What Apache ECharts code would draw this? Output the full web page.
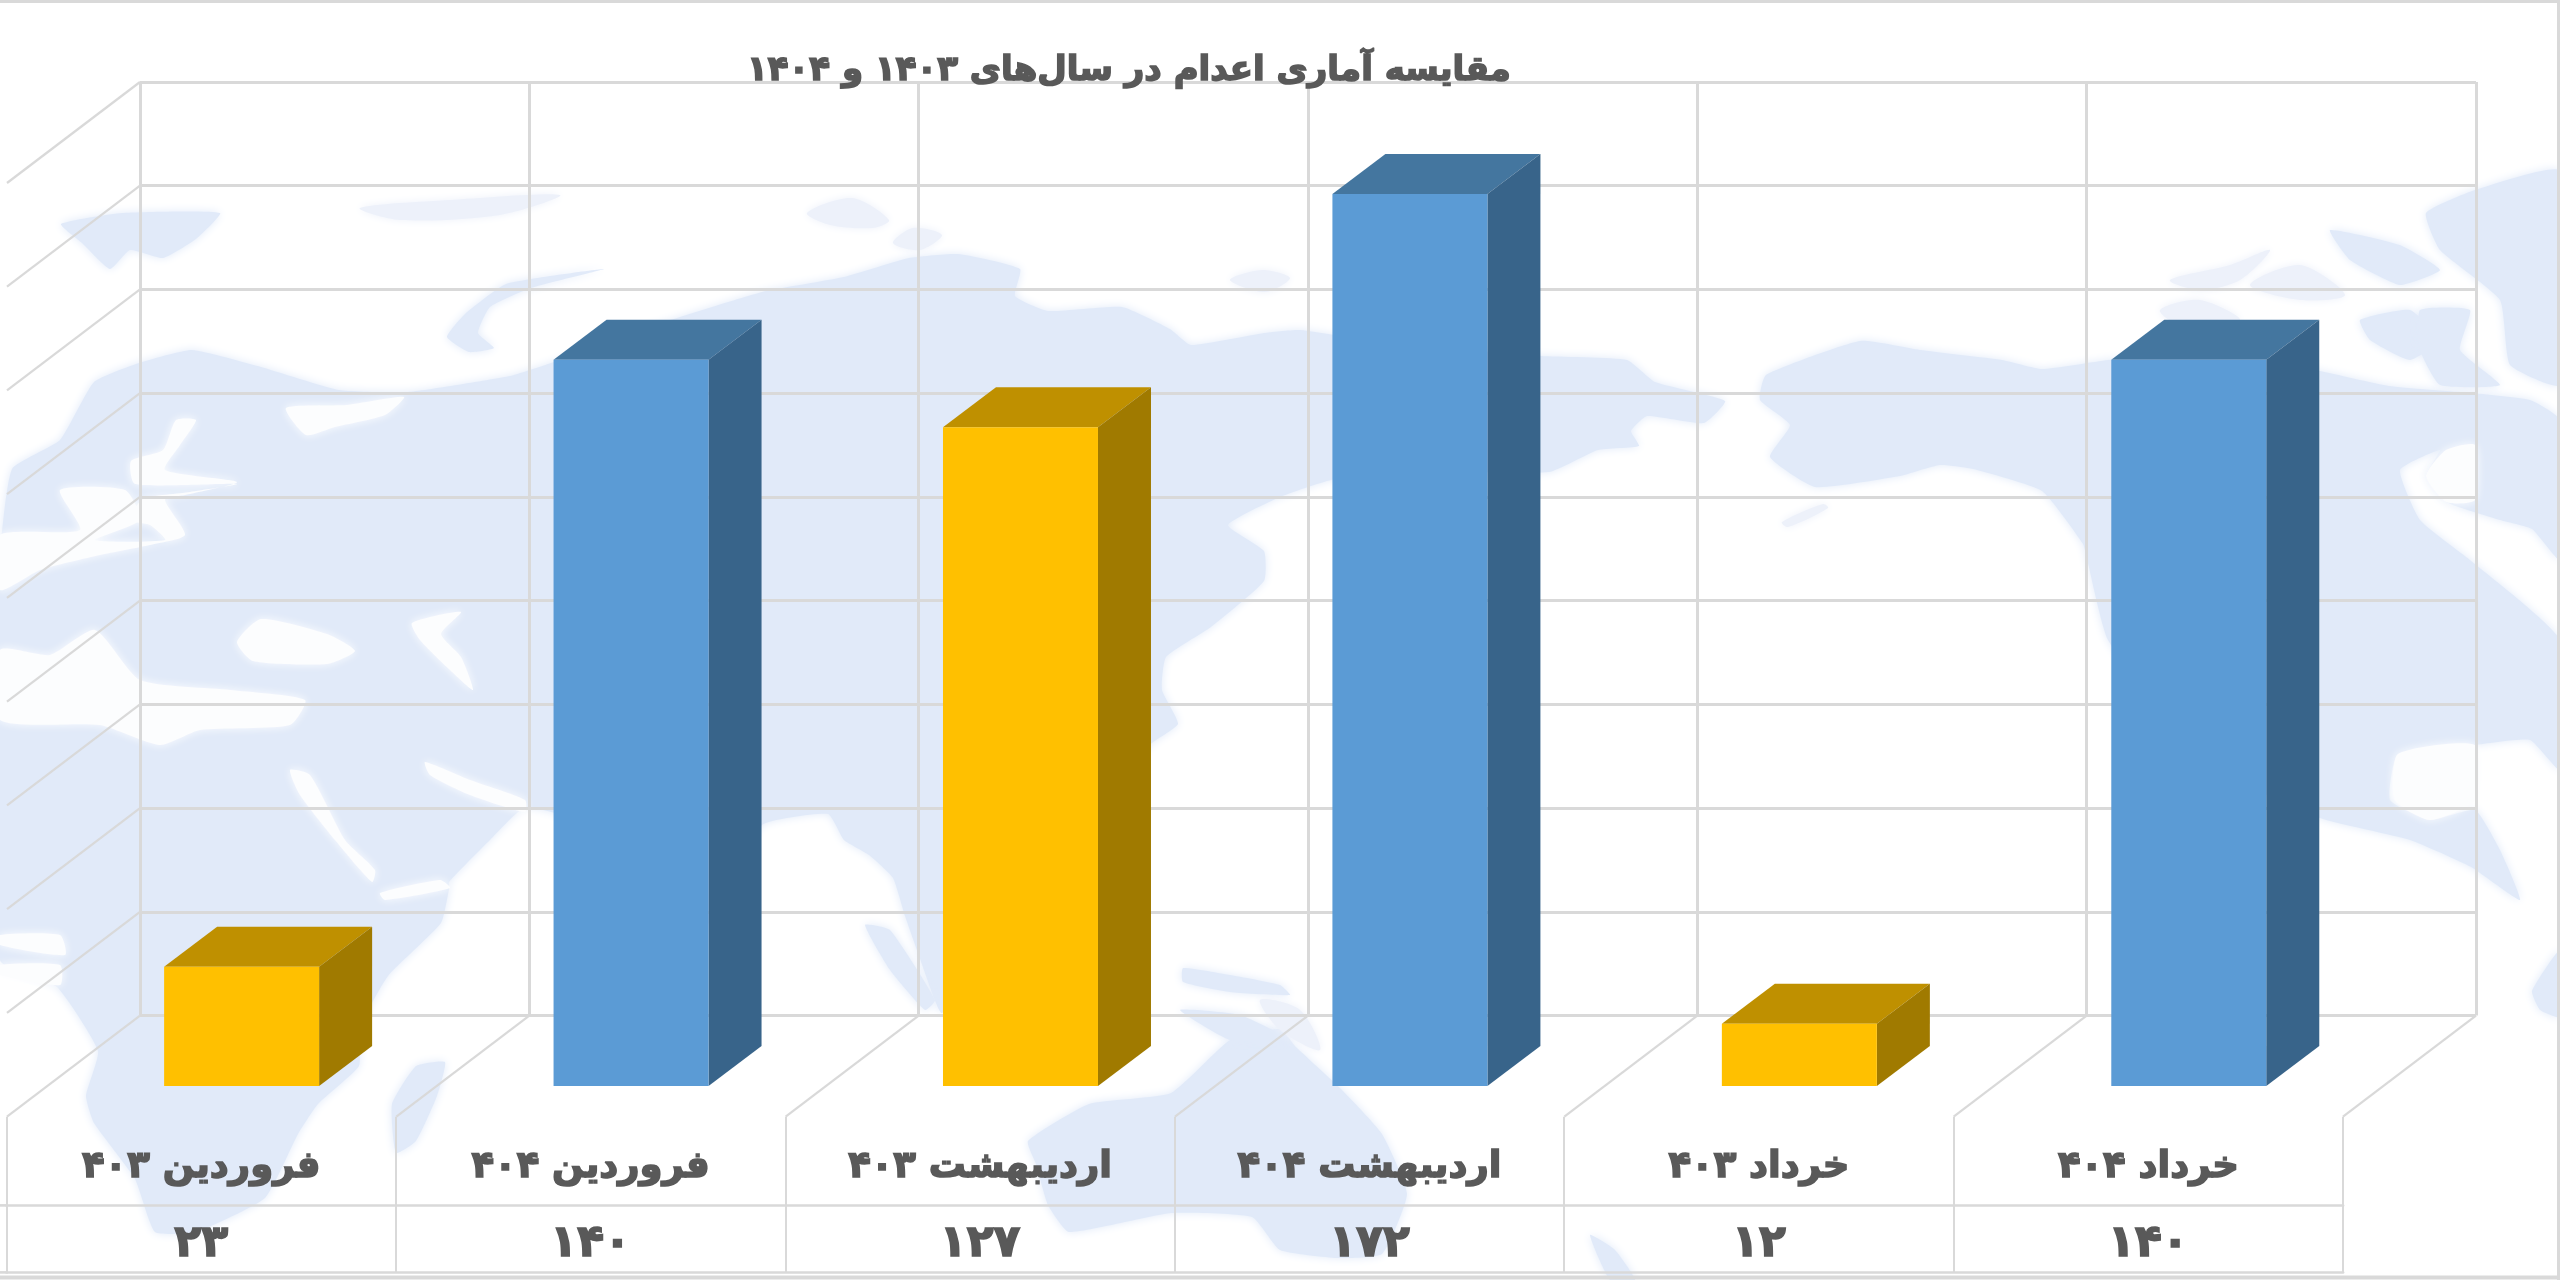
<!DOCTYPE html>
<html><head><meta charset="utf-8">
<style>html,body{margin:0;padding:0;background:#fff}#c{width:2560px;height:1280px}</style>
<script src="https://cdn.jsdelivr.net/npm/echarts@6/dist/echarts.min.js"></script>
</head><body><div id="c"></div>
<script>
const titleText = 'مقایسه آماری اعدام در سال‌های ۱۴۰۳ و ۱۴۰۴';
const categories = ['فروردین ۴۰۳','فروردین ۴۰۴','اردیبهشت ۴۰۳','اردیبهشت ۴۰۴','خرداد ۴۰۳','خرداد ۴۰۴'];
const values = [23,140,127,172,12,140];
const years = ['403','404','403','404','403','404'];
const valueTicks = [20,40,60,80,100,120,140,160,180];
const toFa = v => String(v).replace(/\d/g, d => '۰۱۲۳۴۵۶۷۸۹'[d]);

const palette = {
  '403': {front:'#FFC000', top:'#BF9000', side:'#A07A00'},
  '404': {front:'#5B9BD5', top:'#44769F', side:'#38648A'}
};
const GRID='#D9D9D9', TXT='#595959', LAND='#E1EAF9', FAINT='#EDF1FA';
const FONT='"DejaVu Sans"';
const WALL_DX=133, WALL_DY=101, BAR_DX=53, BAR_DY=40, BAR_W=0.398;

// decorative pale world map behind the chart
const landShapes = [
 // Eurasia + Africa mass
 [[0,560],[12,469],[60,440],[94,382],[139,363],[192,350],[261,367],[339,390],[408,392],[510,376],[551,363],[640,330],[762,292],[844,277],[909,258],[958,254],[1020,269],[1015,296],[1048,311],[1122,307],[1170,329],[1191,345],[1264,333],[1300,330],[1400,345],[1541,356],[1627,360],[1655,382],[1725,401],[1704,423],[1647,416],[1631,431],[1639,446],[1598,450],[1549,472],[1400,470],[1331,480],[1280,497],[1228,525],[1264,551],[1264,581],[1211,627],[1166,657],[1162,690],[1178,724],[1150,745],[1060,880],[1000,960],[942,1013],[934,998],[918,953],[905,916],[893,878],[869,855],[844,840],[828,814],[762,825],[720,900],[680,975],[640,900],[600,830],[526,807],[490,840],[449,882],[449,889],[441,923],[388,976],[359,1029],[359,1066],[318,1104],[298,1134],[265,1198],[196,1232],[155,1232],[135,1179],[94,1123],[86,1096],[98,1051],[57,987],[0,960]],
 // Australia
 [[1028,1141],[1089,1104],[1171,1093],[1230,1040],[1280,1029],[1296,1047],[1341,1089],[1382,1134],[1407,1194],[1382,1254],[1337,1258],[1280,1250],[1252,1217],[1171,1213],[1069,1232],[1048,1205],[1036,1164]],
 // Madagascar
 [[445,1062],[416,1066],[392,1104],[396,1153],[416,1141],[437,1096]],
 // Greenland-like island upper left
 [[61,224],[122,213],[220,213],[196,239],[163,258],[130,250],[110,269],[82,243]],
 // Novaya Zemlya
 [[604,269],[506,284],[465,314],[447,337],[469,352],[494,348],[478,333],[490,307],[531,288]],
 // Indonesia
 [[1183,968],[1230,975],[1280,985],[1290,995],[1230,992],[1183,982]],
 [[865,925],[890,930],[935,1000],[925,1010],[890,970]],
 [[1000,1000],[1040,995],[1080,1015],[1040,1020]],
 [[1180,1010],[1240,1015],[1290,1040],[1230,1040]],
 // Pacific-side islands
 [[1590,1235],[1615,1250],[1635,1280],[1610,1280]],
 // North America
 [[1766,375],[1860,341],[1920,350],[2002,360],[2042,369],[2108,360],[2200,350],[2320,371],[2389,386],[2471,393],[2530,400],[2560,420],[2560,560],[2532,529],[2500,520],[2446,502],[2426,476],[2440,450],[2400,470],[2420,520],[2470,560],[2560,640],[2560,770],[2530,740],[2475,745],[2398,754],[2390,800],[2430,820],[2475,810],[2500,850],[2520,900],[2471,867],[2410,840],[2320,818],[2200,760],[2108,640],[2087,559],[2083,544],[2042,491],[1973,469],[1940,465],[1900,476],[1815,487],[1770,457],[1790,425],[1760,400]],
 // South America
 [[2532,991],[2560,950],[2560,1017],[2540,1010]],
 // Greenland and arctic Canada
 [[2426,213],[2475,190],[2560,171],[2560,385],[2510,365],[2500,300],[2440,250]],
 [[2330,230],[2400,245],[2440,270],[2400,285],[2350,260]],
 [[2360,320],[2410,310],[2440,340],[2410,360],[2370,340]],
 [[2420,310],[2470,310],[2460,350],[2500,385],[2440,385],[2420,350]]
];
const faintShapes = [
 [[360,208],[450,200],[560,195],[500,215],[400,220]],
 [[807,213],[852,198],[889,220],[873,228],[830,225]],
 [[893,243],[913,228],[942,235],[920,250]],
 [[1230,280],[1262,270],[1290,278],[1265,292]],
 [[2170,280],[2230,265],[2270,250],[2240,280],[2200,290]],
 [[2250,285],[2300,265],[2345,295],[2300,300]],
 [[2160,310],[2200,300],[2240,320],[2180,325]],
 [[1782,522],[1823,504],[1828,508],[1788,527]],
 [[1260,1000],[1300,1010],[1320,1050],[1280,1030]]
];
const seaShapes = [
 [[286,408],[347,405],[404,397],[385,415],[335,427],[306,435]],
 [[196,420],[176,420],[163,450],[131,461],[135,484],[237,484],[190,492],[143,499],[130,520],[150,525],[165,540],[95,540],[140,520],[125,490],[60,490],[80,530],[0,535],[0,590],[40,570],[100,555],[150,545],[185,535],[165,500],[185,495],[237,482],[165,470],[180,445]],
 [[237,642],[261,619],[327,634],[355,651],[327,664],[253,661]],
 [[412,623],[461,612],[441,634],[461,657],[473,690],[450,670],[420,640]],
 [[0,650],[50,655],[95,630],[140,680],[230,690],[305,700],[290,725],[200,730],[160,745],[100,725],[0,720]],
 [[290,770],[310,775],[345,840],[375,870],[372,882],[335,840],[300,795]],
 [[425,762],[470,780],[525,800],[525,812],[470,795],[430,775]],
 [[380,893],[440,880],[450,888],[385,900]],
 [[0,935],[60,935],[65,955],[0,945]],
 [[0,965],[60,965],[60,985],[0,975]],
 [[2398,754],[2475,745],[2475,800],[2430,820],[2395,800]],
 [[2426,476],[2446,450],[2475,445],[2475,500],[2446,502]]
];
const mapGraphic = [];
landShapes.forEach(p => mapGraphic.push({type:'polygon', z:-20, silent:true,
  shape:{points:p, smooth:0.15}, style:{fill:LAND, shadowBlur:10, shadowColor:LAND}}));
faintShapes.forEach(p => mapGraphic.push({type:'polygon', z:-20, silent:true,
  shape:{points:p, smooth:0.3}, style:{fill:FAINT, shadowBlur:8, shadowColor:FAINT}}));
seaShapes.forEach(p => mapGraphic.push({type:'polygon', z:-19, silent:true,
  shape:{points:p, smooth:0.2}, style:{fill:'#FCFDFE', shadowBlur:8, shadowColor:'#FCFDFE'}}));
// frame + stubs of the table rules that run to the page edge
const rule = (x1,y1,x2,y2,w) => ({type:'line', z:-5, silent:true, shape:{x1,y1,x2,y2}, style:{stroke:GRID, lineWidth:w}});
mapGraphic.push(rule(0,1.5,2560,1.5,3), rule(0,1277.5,2560,1277.5,4), rule(2558.5,0,2558.5,1280,3),
  rule(0,1205.4,8,1205.4,2.6), rule(0,1272.4,8,1272.4,2.6));

function hiddenY(grid, min, max){ return {type:'value', gridIndex:grid, min, max, axisLine:{show:false}, axisTick:{show:false}, axisLabel:{show:false}, splitLine:{show:false}}; }

const option = {
  backgroundColor:'#fff', animation:false,
  title:{text:titleText, left:1124, top:49, textAlign:'center',
    textStyle:{fontFamily:FONT, fontWeight:'bold', fontSize:34, color:TXT, textBorderColor:TXT, textBorderWidth:1.6}},
  graphic:{elements:mapGraphic},
  grid:[
    {left:140, width:2336, top:82, height:933.6},     // back wall
    {left:46.9, width:2336.6, top:152.4, height:933.6}, // plane of the bar fronts
    {left:6.5, width:2336.6, top:1116.7, height:88.7},  // table: names
    {left:6.5, width:2336.6, top:1205.4, height:67}     // table: values
  ],
  xAxis:[
    {type:'category', gridIndex:0, data:categories, axisLine:{show:false}, axisTick:{show:false}, axisLabel:{show:false},
      splitLine:{show:true, interval:0, lineStyle:{color:GRID, width:3}}},
    {type:'category', gridIndex:1, data:categories, axisLine:{show:false}, axisTick:{show:false}, axisLabel:{show:false}, splitLine:{show:false}},
    {type:'category', gridIndex:2, data:categories, position:'bottom', axisTick:{show:false},
      axisLine:{show:true, lineStyle:{color:GRID, width:2.6}},
      splitLine:{show:true, interval:0, lineStyle:{color:GRID, width:2}},
      axisLabel:{show:true, inside:true, interval:0, margin:38, verticalAlign:'middle', hideOverlap:false,
        fontFamily:FONT, fontWeight:'bold', fontSize:37, color:TXT, textBorderColor:TXT, textBorderWidth:1.6}},
    {type:'category', gridIndex:3, data:values.map(toFa), position:'bottom', axisTick:{show:false},
      axisLine:{show:true, lineStyle:{color:GRID, width:2.6}},
      splitLine:{show:true, interval:0, lineStyle:{color:GRID, width:2}},
      axisLabel:{show:true, inside:true, interval:0, margin:28, verticalAlign:'middle', hideOverlap:false,
        fontFamily:FONT, fontWeight:'bold', fontSize:44, color:TXT, textBorderColor:TXT, textBorderWidth:1.6}}
  ],
  yAxis:[
    {type:'value', gridIndex:0, min:0, max:180, interval:20, axisLine:{show:false}, axisTick:{show:false}, axisLabel:{show:false},
      splitLine:{show:true, lineStyle:{color:GRID, width:3}}},
    hiddenY(1,0,180), hiddenY(2,0,1), hiddenY(3,0,1)
  ],
  series:[
    { // left wall rungs
      type:'custom', xAxisIndex:0, yAxisIndex:0, z:1, silent:true, clip:false, data:valueTicks,
      encode:{y:0},
      renderItem(params, api){
        const cs=params.coordSys, y=api.coord([0,api.value(0)])[1];
        return {type:'line', shape:{x1:cs.x,y1:y,x2:cs.x-WALL_DX,y2:y+WALL_DY}, style:{stroke:GRID,lineWidth:2.2}};
      }
    },
    { // floor rungs
      type:'custom', xAxisIndex:0, yAxisIndex:0, z:1, silent:true, clip:false, data:[0,1,2,3,4,5,6],
      encode:{x:0},
      renderItem(params, api){
        const cs=params.coordSys, i=api.value(0), x=cs.x+i*cs.width/categories.length, y=cs.y+cs.height;
        return {type:'line', shape:{x1:x,y1:y,x2:x-WALL_DX,y2:y+WALL_DY}, style:{stroke:GRID,lineWidth:2.2}};
      }
    },
    { // 3-D columns
      type:'custom', name:'اعدام', xAxisIndex:1, yAxisIndex:1, z:3, clip:false,
      data:values.map((v,i)=>[i,v]), encode:{x:0,y:1},
      renderItem(params, api){
        const i=api.value(0), v=api.value(1), c=palette[years[i]];
        const base=api.coord([i,0]), top=api.coord([i,v]), w=api.size([1,0])[0]*BAR_W;
        const x1=base[0]-w/2, x2=base[0]+w/2, y0=base[1], y1=top[1];
        return {type:'group', children:[
          {type:'polygon', shape:{points:[[x1,y1],[x2,y1],[x2+BAR_DX,y1-BAR_DY],[x1+BAR_DX,y1-BAR_DY]]}, style:{fill:c.top}},
          {type:'polygon', shape:{points:[[x2,y0],[x2+BAR_DX,y0-BAR_DY],[x2+BAR_DX,y1-BAR_DY],[x2,y1]]}, style:{fill:c.side}},
          {type:'rect', shape:{x:x1,y:y1,width:w,height:y0-y1}, style:{fill:c.front}}
        ]};
      }
    }
  ]
};
const chart = echarts.init(document.getElementById('c'), null, {renderer:'canvas', width:2560, height:1280});
chart.setOption(option);
</script></body></html>
